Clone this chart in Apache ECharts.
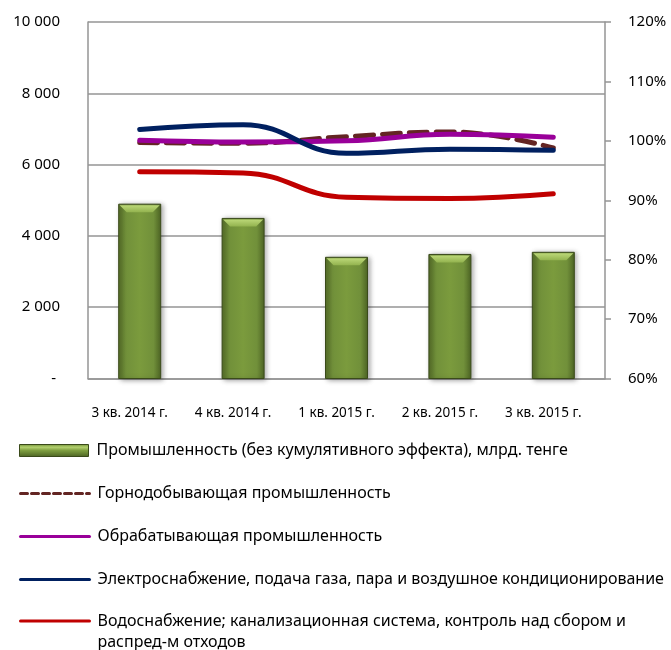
<!DOCTYPE html>
<html>
<head>
<meta charset="utf-8">
<script src="https://cdn.jsdelivr.net/npm/echarts@6/dist/echarts.min.js"></script>
<style>
  html, body { margin: 0; padding: 0; background: #fff; }
  #main { width: 671px; height: 650px; }
</style>
</head>
<body>
<div id="main"></div>
<script>
  // данные с графика
  const categories = ['3 кв. 2014 г.', '4 кв. 2014 г.', '1 кв. 2015 г.', '2 кв. 2015 г.', '3 кв. 2015 г.']
  const industry = [4890, 4490, 3400, 3480, 3540]
  const mining = [99.7, 99.6, 100.7, 101.5, 98.8]
  const manufacturing = [100.1, 99.8, 100.0, 101.1, 100.6]
  const electricity = [101.9, 102.7, 97.9, 98.6, 98.4]
  const water = [94.8, 94.6, 90.5, 90.3, 91.1]
  const leftTicks = [0, 2000, 4000, 6000, 8000, 10000]
  const rightTicks = [60, 70, 80, 90, 100, 110, 120]

  const names = [
    'Промышленность (без кумулятивного эффекта), млрд. тенге',
    'Горнодобывающая промышленность',
    'Обрабатывающая промышленность',
    'Электроснабжение, подача газа, пара и воздушное кондиционирование',
    'Водоснабжение; канализационная система, контроль над сбором и распред-м отходов'
  ]

  const font = '"Noto Sans", sans-serif'
  const grey = '#959595'

  const bodyFill = {
    type: 'linear', x: 0, y: 0, x2: 1, y2: 0,
    colorStops: [
      { offset: 0, color: '#556e28' },
      { offset: 0.18, color: '#71903a' },
      { offset: 0.5, color: '#7b9b3d' },
      { offset: 0.82, color: '#71903a' },
      { offset: 1, color: '#4d6424' }
    ]
  }
  const bevelFill = {
    type: 'linear', x: 0, y: 0, x2: 0, y2: 1,
    colorStops: [
      { offset: 0, color: '#bcd878' },
      { offset: 1, color: '#93b34f' }
    ]
  }
  const legendBarFill = {
    type: 'linear', x: 0, y: 0, x2: 0, y2: 1,
    colorStops: [
      { offset: 0, color: '#6d8c35' },
      { offset: 0.25, color: '#b3d06e' },
      { offset: 0.5, color: '#7e9e40' },
      { offset: 1, color: '#4a6122' }
    ]
  }

  function renderBar(params, api) {
    const idx = api.value(0)
    const top = api.coord([idx, api.value(1)])
    const base = api.coord([idx, 0])
    const w = 42
    const bev = 8
    const x0 = top[0] - w / 2
    const x1 = top[0] + w / 2
    const y0 = top[1]
    const y1 = base[1]
    return {
      type: 'group',
      children: [
        {
          type: 'rect',
          shape: { x: x0, y: y0, width: w, height: y1 - y0 },
          style: {
            fill: bodyFill, stroke: '#3a4a1a', lineWidth: 1,
            shadowBlur: 5, shadowOffsetX: 2, shadowOffsetY: 1, shadowColor: 'rgba(0,0,0,0.35)'
          }
        },
        {
          type: 'polygon',
          shape: { points: [[x0 + 1, y0 + 1], [x1 - 1, y0 + 1], [x1 - bev, y0 + bev], [x0 + bev, y0 + bev]] },
          style: { fill: bevelFill }
        }
      ]
    }
  }

  function lineSeries(name, data, color, type) {
    return {
      name: name,
      type: 'line',
      yAxisIndex: 1,
      data: data,
      smooth: 0.45,
      symbol: 'none',
      lineStyle: { color: color, width: 5, type: type || 'solid', cap: 'round' },
      itemStyle: { color: color },
      z: 3
    }
  }

  function legendAt(name, top, extra) {
    return Object.assign({
      data: [name],
      left: 19,
      top: top,
      orient: 'vertical',
      padding: 0,
      itemWidth: 69,
      itemHeight: 12,
      itemStyle: { opacity: 0 },
      lineStyle: { width: 3 },
      textStyle: { fontFamily: font, fontSize: 16, color: '#000', lineHeight: 21, padding: [0, 0, 0, 3] }
    }, extra || {})
  }

  const chart = echarts.init(document.getElementById('main'))
  chart.setOption({
    animation: false,
    backgroundColor: '#fff',
    grid: { left: 88, right: 66, top: 22, bottom: 271.5 },
    legend: [
      legendAt(names[0], 440, {
        data: [{ name: names[0], icon: 'rect' }],
        itemStyle: { color: legendBarFill, borderColor: '#3a4a1a', borderWidth: 1 }
      }),
      legendAt(names[1], 483, { lineStyle: { width: 3, type: [7, 4] } }),
      legendAt(names[2], 526),
      legendAt(names[3], 569),
      legendAt(names[4], 589.5, {
        formatter: function () {
          return '\nВодоснабжение; канализационная система, контроль над сбором и\nраспред-м отходов'
        }
      })
    ],
    xAxis: {
      type: 'category',
      data: categories,
      boundaryGap: true,
      axisLine: { lineStyle: { color: grey, width: 1.5 } },
      axisTick: { show: false },
      axisLabel: { fontFamily: font, fontSize: 13.5, color: '#000', margin: 28, padding: [0, 20, 0, 0], interval: 0 }
    },
    yAxis: [
      {
        type: 'value',
        min: leftTicks[0],
        max: leftTicks[leftTicks.length - 1],
        interval: leftTicks[1] - leftTicks[0],
        axisLine: { show: true, lineStyle: { color: grey, width: 1.5 } },
        axisTick: { show: false },
        splitLine: { lineStyle: { color: grey, width: 1.5 } },
        axisLabel: {
          fontFamily: font, fontSize: 15, color: '#000', margin: 28,
          formatter: function (v) {
            return v === 0 ? '- ' : String(v).replace(/\B(?=(\d{3})+(?!\d))/g, ' ')
          }
        }
      },
      {
        type: 'value',
        min: rightTicks[0],
        max: rightTicks[rightTicks.length - 1],
        interval: rightTicks[1] - rightTicks[0],
        position: 'right',
        axisLine: { show: true, lineStyle: { color: grey, width: 1.5 } },
        axisTick: { show: true, length: 6, lineStyle: { color: grey, width: 1.5 } },
        splitLine: { show: false },
        axisLabel: { fontFamily: font, fontSize: 15, color: '#000', margin: 23, formatter: '{value}%' }
      }
    ],
    series: [
      {
        name: names[0],
        type: 'custom',
        renderItem: renderBar,
        encode: { x: 0, y: 1 },
        data: industry.map(function (v, i) { return [i, v] }),
        itemStyle: { color: '#77933c' },
        z: 2
      },
      lineSeries(names[1], mining, '#632523', [18, 9]),
      lineSeries(names[2], manufacturing, '#990099'),
      lineSeries(names[3], electricity, '#002060'),
      lineSeries(names[4], water, '#c00000')
    ]
  })
</script>
</body>
</html>
